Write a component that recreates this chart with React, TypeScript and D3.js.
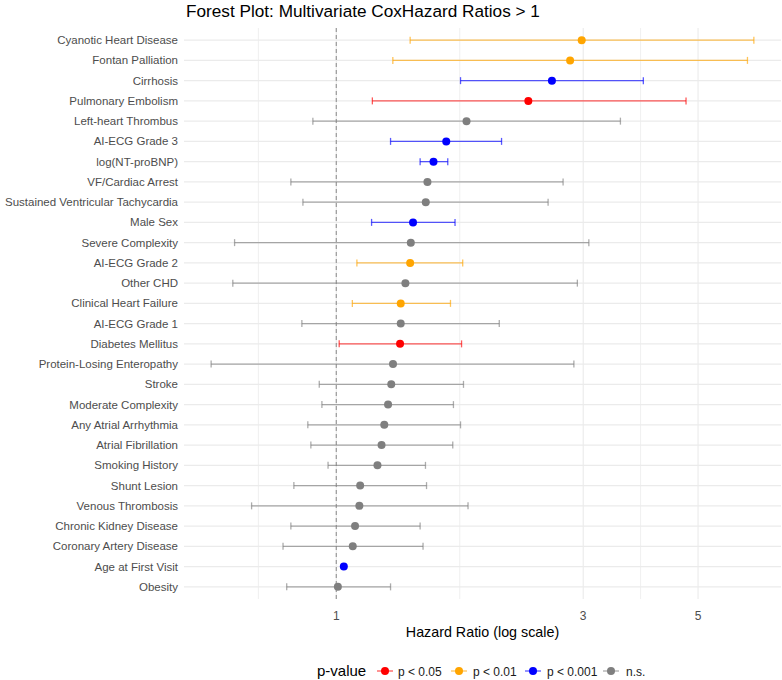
import React from 'react';
import * as d3 from 'd3';

// rows, top to bottom
const labels = [
  'Cyanotic Heart Disease',
  'Fontan Palliation',
  'Cirrhosis',
  'Pulmonary Embolism',
  'Left-heart Thrombus',
  'AI-ECG Grade 3',
  'log(NT-proBNP)',
  'VF/Cardiac Arrest',
  'Sustained Ventricular Tachycardia',
  'Male Sex',
  'Severe Complexity',
  'AI-ECG Grade 2',
  'Other CHD',
  'Clinical Heart Failure',
  'AI-ECG Grade 1',
  'Diabetes Mellitus',
  'Protein-Losing Enteropathy',
  'Stroke',
  'Moderate Complexity',
  'Any Atrial Arrhythmia',
  'Atrial Fibrillation',
  'Smoking History',
  'Shunt Lesion',
  'Venous Thrombosis',
  'Chronic Kidney Disease',
  'Coronary Artery Disease',
  'Age at First Visit',
  'Obesity',
];

const hazard = [
  2.98, 2.83, 2.61, 2.35, 1.785, 1.631, 1.541, 1.5, 1.489, 1.407, 1.393, 1.389,
  1.36, 1.332, 1.332, 1.328, 1.287, 1.277, 1.259, 1.238, 1.223, 1.201, 1.112,
  1.108, 1.087, 1.076, 1.034, 1.007,
];

const lower = [
  1.389, 1.286, 1.738, 1.174, 0.901, 1.273, 1.452, 0.817, 0.862, 1.17, 0.636,
  1.096, 0.631, 1.074, 0.858, 1.013, 0.573, 0.927, 0.938, 0.881, 0.893, 0.964,
  0.828, 0.686, 0.817, 0.789, 1.03, 0.802,
];

const upper = [
  6.41, 6.23, 3.92, 4.74, 3.54, 2.086, 1.642, 2.743, 2.566, 1.696, 3.076, 1.755,
  2.923, 1.662, 2.065, 1.746, 2.878, 1.761, 1.684, 1.738, 1.679, 1.487, 1.494,
  1.797, 1.452, 1.471, 1.039, 1.273,
];

const pGroup = [
  'p < 0.01', 'p < 0.01', 'p < 0.001', 'p < 0.05', 'n.s.', 'p < 0.001',
  'p < 0.001', 'n.s.', 'n.s.', 'p < 0.001', 'n.s.', 'p < 0.01', 'n.s.',
  'p < 0.01', 'n.s.', 'p < 0.05', 'n.s.', 'n.s.', 'n.s.', 'n.s.', 'n.s.',
  'n.s.', 'n.s.', 'n.s.', 'n.s.', 'n.s.', 'p < 0.001', 'n.s.',
];

const legendLevels = ['p < 0.05', 'p < 0.01', 'p < 0.001', 'n.s.'];
const legendColors = ['#ff0000', '#ffa500', '#0000ff', '#7f7f7f'];

const xTicks = [1, 3, 5];
const xMinor = [0.707, 1.732, 3.873];

const W = 782;
const H = 680;
const panel = { left: 184, right: 781, top: 28, bottom: 599 };
const FONT = '"Liberation Sans", Arial, sans-serif';

const App: React.FC = () => {
  const lo = Math.log10(d3.min(lower) as number);
  const hi = Math.log10(d3.max(upper) as number);
  const pad = (hi - lo) * 0.05;
  const x = d3
    .scaleLog()
    .domain([Math.pow(10, lo - pad), Math.pow(10, hi + pad)])
    .range([panel.left, panel.right]);

  const y = d3
    .scalePoint<string>()
    .domain(labels)
    .range([panel.top, panel.bottom])
    .padding(0.6);

  const color = d3.scaleOrdinal<string, string>().domain(legendLevels).range(legendColors);

  const rows = labels.map((name, i) => ({
    name,
    hr: hazard[i],
    lo: lower[i],
    hi: upper[i],
    p: pGroup[i],
  }));

  // legend layout (measured offsets)
  const legendY = 671;
  const legendItems = [
    { key: 385, text: 398 },
    { key: 459, text: 473 },
    { key: 533, text: 547 },
    { key: 611, text: 626 },
  ];

  return (
    <svg
      width={W}
      height={H}
      style={{ position: 'absolute', left: 0, top: 0, background: '#fff' }}
      fontFamily={FONT}
    >
      <text x={186} y={17} fontSize={17.2} fill="#000">
        Forest Plot: Multivariate CoxHazard Ratios &gt; 1
      </text>

      {/* grid */}
      <g>
        {xMinor.map(v => (
          <line key={'mi' + v} x1={x(v)} x2={x(v)} y1={panel.top} y2={panel.bottom} stroke="#ebebeb" strokeWidth={0.8} />
        ))}
        {xTicks.map(v => (
          <line key={'ma' + v} x1={x(v)} x2={x(v)} y1={panel.top} y2={panel.bottom} stroke="#ebebeb" strokeWidth={1.1} />
        ))}
        {labels.map(l => (
          <line key={'h' + l} x1={panel.left} x2={panel.right} y1={y(l)} y2={y(l)} stroke="#ebebeb" strokeWidth={1.1} />
        ))}
      </g>

      {/* reference line */}
      <line
        x1={x(1)}
        x2={x(1)}
        y1={panel.top}
        y2={panel.bottom}
        stroke="#999999"
        strokeWidth={1.2}
        strokeDasharray="4,3"
      />

      {/* error bars */}
      <g>
        {rows.map(d => {
          const cy = y(d.name) as number;
          const c = color(d.p);
          return (
            <g key={'e' + d.name} stroke={c} strokeOpacity={0.65} strokeWidth={1.3}>
              <line x1={x(d.lo)} x2={x(d.hi)} y1={cy} y2={cy} />
              <line x1={x(d.lo)} x2={x(d.lo)} y1={cy - 3.5} y2={cy + 3.5} />
              <line x1={x(d.hi)} x2={x(d.hi)} y1={cy - 3.5} y2={cy + 3.5} />
            </g>
          );
        })}
      </g>

      {/* points */}
      <g>
        {rows.map(d => (
          <circle key={'p' + d.name} cx={x(d.hr)} cy={y(d.name)} r={4} fill={color(d.p)} />
        ))}
      </g>

      {/* y axis labels */}
      <g fontSize={11.5} fill="#4d4d4d" textAnchor="end">
        {labels.map(l => (
          <text key={'yl' + l} x={178} y={(y(l) as number) + 4}>
            {l}
          </text>
        ))}
      </g>

      {/* x axis labels */}
      <g fontSize={12} fill="#4d4d4d" textAnchor="middle">
        {xTicks.map(v => (
          <text key={'xl' + v} x={x(v)} y={620}>
            {v}
          </text>
        ))}
      </g>
      <text x={(panel.left + panel.right) / 2} y={637} fontSize={14.3} fill="#000" textAnchor="middle">
        Hazard Ratio (log scale)
      </text>

      {/* legend */}
      <g>
        <text x={317} y={legendY + 5} fontSize={15} fill="#000">
          p-value
        </text>
        {legendLevels.map((lv, i) => (
          <g key={'lg' + lv}>
            <line
              x1={legendItems[i].key - 8}
              x2={legendItems[i].key + 8}
              y1={legendY}
              y2={legendY}
              stroke={color(lv)}
              strokeOpacity={0.65}
              strokeWidth={1.3}
            />
            <circle cx={legendItems[i].key} cy={legendY} r={4} fill={color(lv)} />
            <text x={legendItems[i].text} y={legendY + 4.5} fontSize={12} fill="#1a1a1a">
              {lv}
            </text>
          </g>
        ))}
      </g>
    </svg>
  );
};

export default App;
